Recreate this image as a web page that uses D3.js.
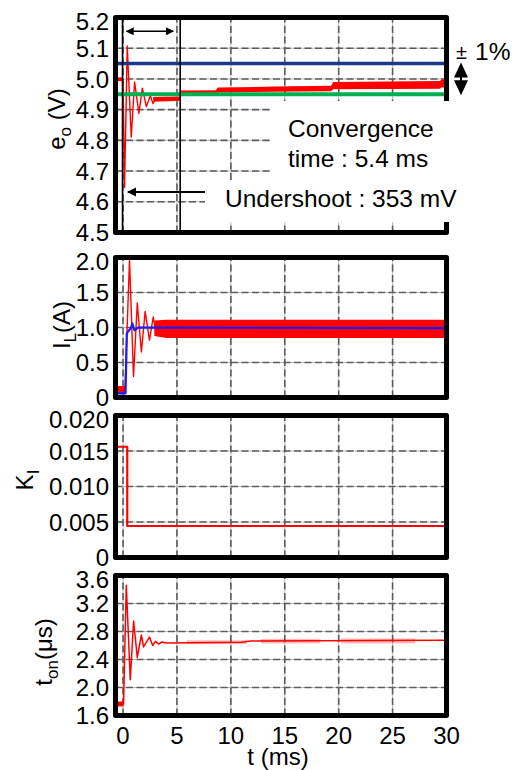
<!DOCTYPE html>
<html>
<head>
<meta charset="utf-8">
<style type="text/css">
body { margin: 0; background: #fff; }
svg { font-family: "Liberation Sans", Arial, sans-serif; }
.frame { fill: none; stroke: #000; stroke-width: 5; stroke-linejoin: round; }
.gridsolid { stroke: #b8b8b8; stroke-width: 1; }
.griddash { stroke: #5c5c5c; stroke-width: 1.6; stroke-dasharray: 7,3.5; }
.trace { fill: none; stroke: #ff0000; stroke-width: 1.4; stroke-linejoin: round; }
.band { fill: #ff0000; stroke: none; }
.tick { font-size: 24px; fill: #000; }
.lab { font-size: 24px; fill: #000; }
.note { font-size: 24.5px; fill: #000; }
</style>
<script src="https://cdn.jsdelivr.net/npm/d3@7"></script>
</head>
<body>
<script type="text/javascript">
// time axis (ms)
var tTicks = [0, 5, 10, 15, 20, 25, 30];
var tGrid  = [0, 5, 10, 15, 20, 25];

// e_o (V)
var eoTicks  = [4.5, 4.6, 4.7, 4.8, 4.9, 5.0, 5.1, 5.2];
var eoLimits = [5.05, 4.95];          // +/- 1 %
var eoMarks  = [-0.05, 5.3];          // start / convergence
var eoPre    = [[-0.7, 4.993, 5.005], [0.0, 4.993, 5.005]];
var eoTrace  = [[0.0, 5.0], [0.14, 4.647], [0.39, 5.107], [0.76, 4.81], [1.07, 4.99],
                [1.47, 4.888], [1.79, 4.97], [2.16, 4.91], [2.53, 4.945], [2.77, 4.92], [3.0, 4.933]];
var eoRipple = [[2.8, 4.926, 4.941], [5.3, 4.929, 4.943], [5.35, 4.953, 4.962], [8.6, 4.954, 4.963],
                [8.8, 4.956, 4.972], [14, 4.958, 4.975], [19.3, 4.960, 4.978], [19.5, 4.966, 4.990],
                [29.4, 4.968, 4.993], [29.5, 4.972, 4.998], [30, 4.972, 4.998]];

// I_L (A)
var ilTicks  = [0, 0.5, 1.0, 1.5, 2.0];
var ilPre    = [[-0.7, 0.06, 0.165], [0.18, 0.06, 0.165]];
var ilTrace  = [[0.18, 0.12], [0.6, 1.97], [0.97, 0.3], [1.32, 1.35], [1.7, 0.65], [2.05, 1.23],
                [2.45, 0.82], [2.8, 1.15], [3.1, 0.89], [3.3, 1.08]];
var ilRipple = [[2.9, 0.88, 1.10], [4.0, 0.85, 1.11], [30, 0.85, 1.11]];
var ilRef    = [[-0.7, 0.06], [0.23, 0.06], [0.35, 0.92], [0.76, 1.0], [0.85, 1.06], [1.07, 0.96],
                [1.4, 1.0], [30, 0.99]];

// K_I
var kiTicks = [0, 0.005, 0.010, 0.015, 0.020];
var kiTrace = [[-0.7, 0.0156], [0.39, 0.0156], [0.39, 0.00444], [30, 0.00444]];

// t_on (us)
var tonTicks  = [1.6, 2.0, 2.4, 2.8, 3.2, 3.6];
var tonPre    = [[-0.7, 1.73, 1.80], [0.05, 1.73, 1.80]];
var tonTrace  = [[0.05, 1.76], [0.08, 2.0], [0.3, 3.46], [0.67, 2.11], [0.98, 2.95], [1.32, 2.43],
                 [1.7, 2.75], [1.9, 2.58], [2.45, 2.72], [2.75, 2.60], [3.0, 2.66], [3.3, 2.62],
                 [3.6, 2.65], [4.0, 2.635], [11, 2.645], [11.8, 2.665], [30, 2.675]];
var tonSpikes = [[5.9, 11.5, 2.62, 2.675], [12.8, 18.3, 2.63, 2.695], [20.2, 27.1, 2.63, 2.70]];

var width = 515, height = 770;
var svg = d3.select("body").append("svg").attr("width", width).attr("height", height);

var x = d3.scaleLinear().domain([-0.7, 30]).range([115.5, 446.5]);
var panelY = [[232.5, 17.5], [397.5, 257.5], [557.5, 415.5], [715.5, 575.5]];

function panel(i, ticks, fmt) {
	var y = d3.scaleLinear().domain([ticks[0], ticks[ticks.length - 1]]).range(panelY[i]);
	var g = svg.append("g");
	var inner = ticks.slice(1, -1);
	["gridsolid", "griddash"].forEach(function(cls) {
		g.selectAll(null).data(tGrid).enter().append("line").
		attr("class", cls).
		attr("x1", x).attr("x2", x).
		attr("y1", panelY[i][0]).attr("y2", panelY[i][1]);
		g.selectAll(null).data(inner).enter().append("line").
		attr("class", cls).
		attr("x1", x.range()[0]).attr("x2", x.range()[1]).
		attr("y1", y).attr("y2", y);
	});
	// top label sits a little lower than its value, as in the original
	svg.selectAll(null).data(ticks).enter().append("text").
	attr("class", "tick").
	attr("x", 109).
	attr("y", function(d, k) { return y(d) + (k === ticks.length - 1 ? 3.5 : 0); }).
	attr("dy", "0.36em").
	attr("text-anchor", "end").
	text(fmt);
	return { g: g, y: y, i: i };
}

function frame(p) {
	p.g.append("rect").attr("class", "frame").
	attr("x", x.range()[0]).attr("y", panelY[p.i][1]).
	attr("width", x.range()[1] - x.range()[0]).
	attr("height", panelY[p.i][0] - panelY[p.i][1]);
}

function band(p, data) {
	var a = d3.area().x(function(d) { return x(d[0]); }).
	y0(function(d) { return p.y(d[1]); }).
	y1(function(d) { return p.y(d[2]); });
	p.g.append("path").data([data]).attr("class", "band").attr("d", a);
}

function trace(p, data, color, w) {
	var l = d3.line().x(function(d) { return x(d[0]); }).y(function(d) { return p.y(d[1]); });
	p.g.append("path").data([data]).attr("class", "trace").
	attr("d", l).style("stroke", color || "#ff0000").style("stroke-width", w || 1.4);
}

// arrow heads
var defs = svg.append("defs");
defs.append("marker").attr("id", "ah").
attr("viewBox", "0 0 10 10").attr("refX", 9).attr("refY", 5).
attr("markerWidth", 8).attr("markerHeight", 8).attr("markerUnits", "userSpaceOnUse").
attr("orient", "auto-start-reverse").
append("path").attr("d", "M0,0L10,5L0,10z").attr("fill", "#000");
defs.append("marker").attr("id", "ah2").
attr("viewBox", "0 0 10 10").attr("refX", 9).attr("refY", 5).
attr("markerWidth", 9).attr("markerHeight", 10).attr("markerUnits", "userSpaceOnUse").
attr("orient", "auto-start-reverse").
append("path").attr("d", "M0,0L10,5L0,10z").attr("fill", "#000");

// ---- panel 1 : e_o
var p1 = panel(0, eoTicks, d3.format(".1f"));
band(p1, eoPre);
trace(p1, eoTrace);
band(p1, eoRipple);
p1.g.append("line").attr("x1", x.range()[0]).attr("x2", x.range()[1]).
attr("y1", p1.y(eoLimits[0])).attr("y2", p1.y(eoLimits[0])).
style("stroke", "#1b3988").style("stroke-width", 3.4);
p1.g.append("line").attr("x1", x.range()[0]).attr("x2", x.range()[1]).
attr("y1", p1.y(eoLimits[1])).attr("y2", p1.y(eoLimits[1])).
style("stroke", "#00b050").style("stroke-width", 4);
p1.g.selectAll(null).data(eoMarks).enter().append("line").
attr("x1", x).attr("x2", x).
attr("y1", panelY[0][0]).attr("y2", panelY[0][1]).
style("stroke", "#000").style("stroke-width", 1.6);
frame(p1);

// white boxes behind the notes
p1.g.append("rect").attr("x", 270).attr("y", 101).attr("width", 200).attr("height", 121).attr("fill", "#fff");
p1.g.append("rect").attr("x", 205).attr("y", 180).attr("width", 70).attr("height", 42).attr("fill", "#fff");

p1.g.append("text").attr("class", "note").attr("x", 288).attr("y", 137).text("Convergence");
p1.g.append("text").attr("class", "note").attr("x", 288).attr("y", 166.5).text("time : 5.4 ms");
p1.g.append("text").attr("class", "note").attr("x", 225).attr("y", 206.5).text("Undershoot : 353 mV");

// convergence time arrow
p1.g.append("line").
attr("x1", x(eoMarks[0]) + 4).attr("x2", x(eoMarks[1]) - 7).
attr("y1", p1.y(5.155)).attr("y2", p1.y(5.155)).
style("stroke", "#000").style("stroke-width", 1.6).
attr("marker-start", "url(#ah)").attr("marker-end", "url(#ah)");
// undershoot arrow
p1.g.append("line").
attr("x1", x(7.6)).attr("x2", x(0.45)).
attr("y1", p1.y(4.632)).attr("y2", p1.y(4.632)).
style("stroke", "#000").style("stroke-width", 2).
attr("marker-end", "url(#ah2)");

// +/- 1 % arrow
var ya = p1.y(eoLimits[0]), yb = p1.y(eoLimits[1]), xa = 461;
p1.g.append("line").attr("x1", xa).attr("x2", xa).attr("y1", ya + 5).attr("y2", yb - 5).
style("stroke", "#000").style("stroke-width", 2);
p1.g.append("path").attr("d", "M" + (xa - 7) + "," + (ya + 14) + "L" + (xa + 7) + "," + (ya + 14) + "L" + xa + "," + (ya - 1) + "z");
p1.g.append("path").attr("d", "M" + (xa - 7) + "," + (yb - 14) + "L" + (xa + 7) + "," + (yb - 14) + "L" + xa + "," + (yb + 1) + "z");
p1.g.append("text").attr("x", 456).attr("y", 59).style("font-size", "20px").text("±");
p1.g.append("text").attr("class", "note").attr("x", 475).attr("y", 60).text("1%");

// ---- panel 2 : I_L
var p2 = panel(1, ilTicks, function(d) { return d === 0 ? "0" : d3.format(".1f")(d); });
band(p2, ilPre);
trace(p2, ilTrace);
band(p2, ilRipple);
trace(p2, ilRef, "#1a1aff", 2.2);
frame(p2);

// ---- panel 3 : K_I
var p3 = panel(2, kiTicks, function(d) { return d === 0 ? "0" : d3.format(".3f")(d); });
trace(p3, kiTrace, "#ff0000", 2.2);
frame(p3);

// ---- panel 4 : t_on
var p4 = panel(3, tonTicks, d3.format(".1f"));
band(p4, tonPre);
p4.g.selectAll(null).data(tonSpikes).enter().append("rect").
attr("x", function(d) { return x(d[0]); }).
attr("width", function(d) { return x(d[1]) - x(d[0]); }).
attr("y", function(d) { return p4.y(d[3]); }).
attr("height", function(d) { return p4.y(d[2]) - p4.y(d[3]); }).
attr("fill", "#ff0000").attr("opacity", 0.28);
trace(p4, tonTrace, "#ff0000", 1.5);
frame(p4);

// x tick labels
svg.selectAll(null).data(tTicks).enter().append("text").
attr("class", "tick").attr("x", x).attr("y", 744).
attr("text-anchor", "middle").text(function(d) { return d; });
svg.append("text").attr("class", "lab").attr("x", 278).attr("y", 765).
attr("text-anchor", "middle").text("t (ms)");

// y labels
function ylab(cx, cy, main, sub, rest) {
	var t = svg.append("text").attr("class", "lab").
	attr("transform", "translate(" + cx + "," + cy + ") rotate(-90)").
	attr("text-anchor", "middle");
	t.append("tspan").text(main);
	t.append("tspan").attr("dy", 6).style("font-size", "17px").text(sub);
	if (rest) t.append("tspan").attr("dy", -6).text(rest);
}
ylab(65, 119, "e", "o", " (V)");
ylab(70, 325, "I", "L", "(A)");
ylab(33, 480, "K", "I", null);
ylab(52, 652, "t", "on", "(μs)");
</script>
</body>
</html>
